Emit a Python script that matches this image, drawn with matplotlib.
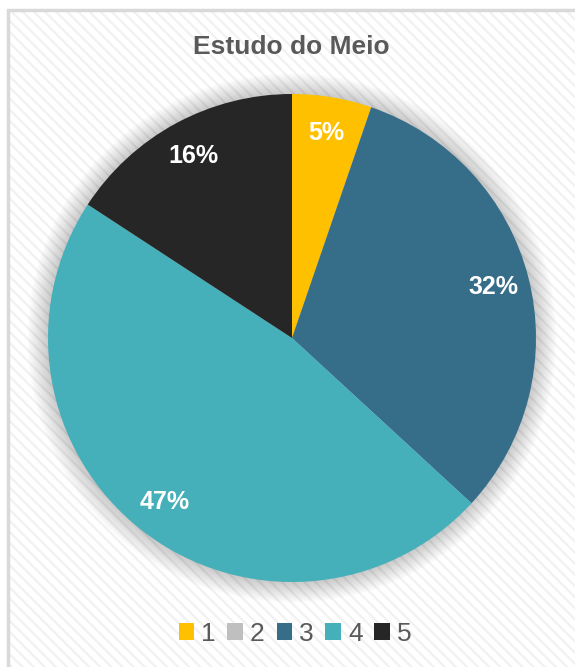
import matplotlib.pyplot as plt
from matplotlib.patches import Rectangle, Circle, Patch

plt.rcParams['font.family'] = ['Liberation Sans', 'DejaVu Sans']
plt.rcParams['hatch.linewidth'] = 1.6

# data
title = 'Estudo do Meio'
labels = ['1', '2', '3', '4', '5']
counts = [1, 0, 6, 9, 3]
colors = ['#ffc000', '#bfbfbf', '#366e8a', '#45afba', '#262626']

fig = plt.figure(figsize=(5.75, 6.67), dpi=100)

# striped background and border
fig.patches.append(Rectangle((8 / 575, 0), 1, 1 - 10 / 667, transform=fig.transFigure,
                             facecolor='white', edgecolor='#f1f1f1', hatch='\\\\\\',
                             linewidth=0, zorder=-2))
fig.patches.append(Rectangle((8 / 575, -0.01), 1, 1 - 10 / 667 + 0.01, transform=fig.transFigure,
                             fill=False, edgecolor='#d9d9d9', linewidth=2.5, zorder=-1))

fig.text(291 / 575, 1 - 47 / 667, title, ha='center', va='center',
         fontsize=19, fontweight='bold', color='#595959')

# pie axes, centre (292, 338), radius 244 px
r_px = 244
ax = fig.add_axes([(292 - r_px) / 575, 1 - (338 + r_px) / 667, 2 * r_px / 575, 2 * r_px / 667])
ax.set_zorder(2)
ax.axis('off')

# soft shadow around the pie
for i in range(18):
    ax.add_patch(Circle((0, 0), 1 + i * 0.005, color='black', alpha=0.012, lw=0,
                        zorder=0, clip_on=False))


def pct(p):
    return '' if p < 0.5 else '%.0f%%' % p


wedges, texts, autotexts = ax.pie(counts, colors=colors, startangle=90, counterclock=False,
                                  radius=1, autopct=pct, pctdistance=0.85,
                                  wedgeprops={'linewidth': 0},
                                  textprops={'color': 'white', 'fontsize': 18, 'fontweight': 'bold'})
for w in wedges:
    w.set_zorder(2)
for t in autotexts:
    t.set_zorder(3)
ax.set_xlim(-1, 1)
ax.set_ylim(-1, 1)
ax.set_aspect('equal')

handles = [Patch(facecolor=c, edgecolor='none') for c in colors]
leg = fig.legend(handles, labels, loc='center', bbox_to_anchor=(295 / 575, 1 - 634 / 667),
                 ncol=5, frameon=False, fontsize=19, labelcolor='#595959',
                 handlelength=0.6, handleheight=0.6, handletextpad=0.25, columnspacing=0.45)

fig.savefig('out.png', dpi=100)
